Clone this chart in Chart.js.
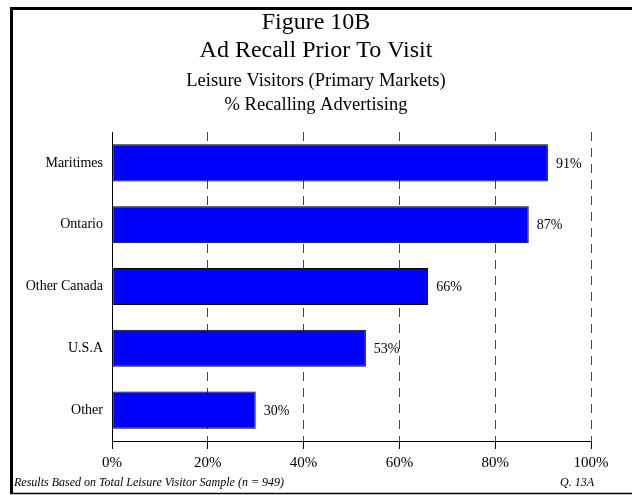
<!DOCTYPE html>
<html>
<head>
<meta charset="utf-8">
<script src="https://cdn.jsdelivr.net/npm/chart.js@4.4.0/dist/chart.umd.min.js"></script>
<style>
  body { margin: 0; background: #fff; }
  #wrap { width: 632px; height: 495px; }
</style>
</head>
<body>
<div id="wrap"><canvas id="myChart" width="632" height="495"></canvas></div>
<script>
var markets = ['Maritimes', 'Ontario', 'Other Canada', 'U.S.A', 'Other'];
var recall = [91, 87, 66, 53, 30];
var xTicks = [0, 20, 40, 60, 80, 100];
var titleLines = ['Figure 10B', 'Ad Recall Prior To Visit'];
var subLines = ['Leisure Visitors (Primary Markets)', '% Recalling Advertising'];

var serif = '"Liberation Serif", "Times New Roman", serif';

// frame, titles, value labels and footnotes
var extras = {
    id: 'extras',
    beforeDraw: function(chart) {
        var ctx = chart.ctx;
        ctx.save();
        ctx.fillStyle = '#fff';
        ctx.fillRect(0, 0, chart.width, chart.height);
        ctx.strokeStyle = '#000';
        ctx.lineWidth = 3;
        ctx.beginPath();
        ctx.moveTo(11.5, 494);
        ctx.lineTo(11.5, 8.5);
        ctx.lineTo(632, 8.5);
        ctx.stroke();
        ctx.lineWidth = 1.5;
        ctx.beginPath();
        ctx.moveTo(10, 493.5);
        ctx.lineTo(632, 493.5);
        ctx.stroke();

        // titles
        ctx.fillStyle = '#000';
        ctx.textAlign = 'center';
        ctx.textBaseline = 'middle';
        ctx.font = '24px ' + serif;
        ctx.fillText(titleLines[0], 316, 23);
        ctx.fillText(titleLines[1], 316, 51);
        ctx.font = '18.5px ' + serif;
        ctx.fillText(subLines[0], 316, 81);
        ctx.fillText(subLines[1], 316, 105);
        ctx.restore();
    },
    afterDatasetsDraw: function(chart) {
        var ctx = chart.ctx;
        var meta = chart.getDatasetMeta(0);
        ctx.save();
        ctx.fillStyle = '#000';
        ctx.font = '14px ' + serif;
        ctx.textAlign = 'left';
        ctx.textBaseline = 'middle';
        meta.data.forEach(function(bar, i) {
            ctx.fillText(recall[i] + '%', bar.x + 8, bar.y + 1);
        });
        ctx.font = 'italic 12px ' + serif;
        ctx.textBaseline = 'alphabetic';
        ctx.fillText('Results Based on Total Leisure Visitor Sample (n = 949)', 14, 486);
        ctx.fillText('Q. 13A', 560, 486);
        ctx.restore();
    }
};

var graphTarget = document.getElementById('myChart');
var barGraph = new Chart(graphTarget, {
    type: 'bar',
    data: {
        labels: markets,
        datasets: [{
            label: '% Recalling Advertising',
            data: recall,
            backgroundColor: '#0000ff',
            borderColor: '#000',
            borderWidth: 1,
            borderSkipped: false,
            categoryPercentage: 1,
            barPercentage: 0.6
        }]
    },
    options: {
        indexAxis: 'y',
        responsive: false,
        animation: false,
        layout: { padding: { left: 16, right: 41, top: 132, bottom: 24 } },
        plugins: {
            legend: { display: false },
            tooltip: { enabled: false },
            title: { display: false }
        },
        scales: {
            x: {
                min: 0,
                max: 100,
                afterBuildTicks: function(scale) {
                    scale.ticks = xTicks.map(function(v) { return { value: v }; });
                },
                afterFit: function(scale) { scale.height = 30; },
                ticks: {
                    color: '#000',
                    font: { family: serif, size: 15 },
                    padding: 5,
                    callback: function(v) { return v + '%'; }
                },
                grid: {
                    color: '#444',
                    lineWidth: 1,
                    tickLength: 8,
                    tickColor: '#000',
                    tickBorderDash: []
                },
                border: { display: true, color: '#000', width: 1, dash: [9, 7] }
            },
            y: {
                afterFit: function(scale) { scale.width = 96; },
                ticks: {
                    color: '#000',
                    font: { family: serif, size: 14 },
                    padding: 9
                },
                grid: { display: false, drawTicks: false },
                border: { display: true, color: '#000', width: 1 }
            }
        }
    },
    plugins: [extras]
});
</script>
</body>
</html>
